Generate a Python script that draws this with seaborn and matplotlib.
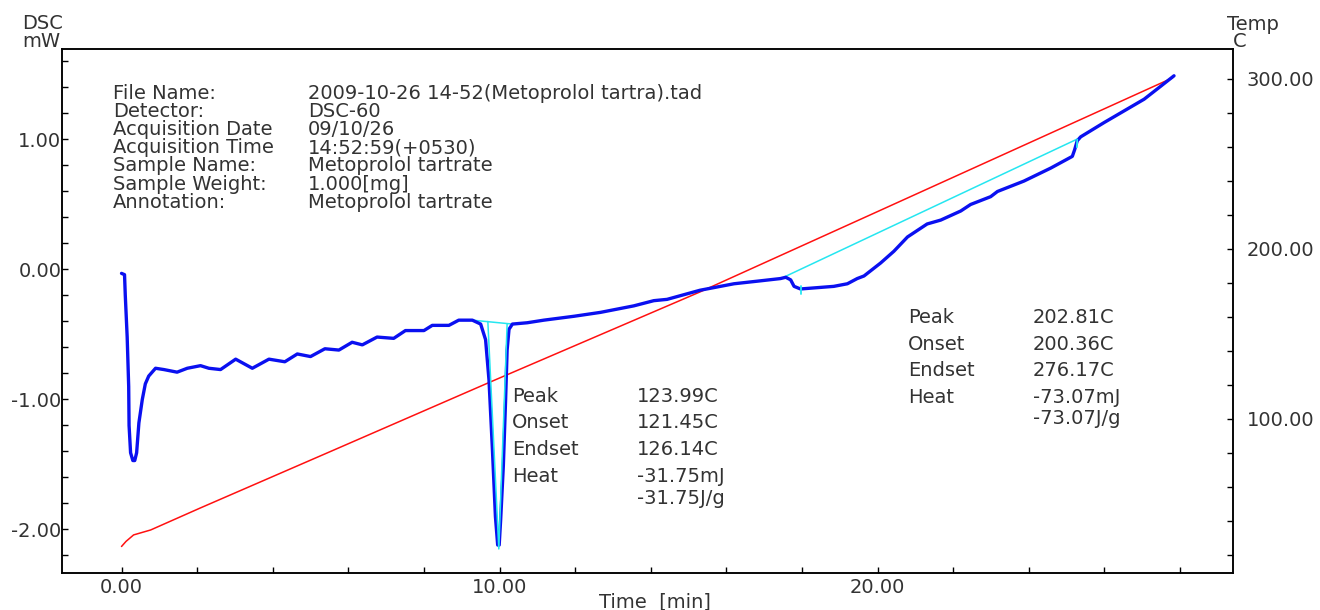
import numpy as np
import pandas as pd
import matplotlib
matplotlib.use("Agg")
import matplotlib.pyplot as plt
from matplotlib.ticker import MultipleLocator, FormatStrFormatter
import seaborn as sns

# ---------------- data ----------------
dsc_time = [0.00, 0.08, 0.10, 0.15, 0.19, 0.20, 0.24, 0.30, 0.35, 0.40, 0.46, 0.55, 0.63, 0.72,
            0.90, 1.12, 1.47, 1.74, 2.09, 2.31, 2.62, 3.02, 3.46, 3.90, 4.32, 4.65, 5.00, 5.38,
            5.75, 6.10, 6.37, 6.76, 7.20, 7.51, 8.00, 8.22, 8.66, 8.92, 9.28, 9.50, 9.63, 9.72,
            9.81, 9.89, 9.95, 9.99, 10.03, 10.10, 10.16, 10.20, 10.25, 10.34, 10.73, 11.17, 11.97,
            12.67, 13.55, 14.08, 14.43, 15.30, 16.20, 16.82, 17.43, 17.57, 17.70, 17.79, 17.96,
            18.40, 18.84, 19.20, 19.46, 19.64, 20.08, 20.43, 20.79, 21.31, 21.67, 22.20, 22.46,
            22.99, 23.17, 23.87, 24.58, 25.15, 25.21, 25.28, 25.37, 25.99, 26.52, 27.05, 27.49, 27.84]
dsc_mw = [-0.03, -0.04, -0.20, -0.52, -0.90, -1.20, -1.41, -1.47, -1.47, -1.41, -1.18, -1.00, -0.88, -0.82,
          -0.76, -0.77, -0.79, -0.76, -0.74, -0.76, -0.77, -0.69, -0.76, -0.69, -0.71, -0.65, -0.67, -0.61,
          -0.62, -0.56, -0.58, -0.52, -0.53, -0.47, -0.47, -0.43, -0.43, -0.39, -0.39, -0.42, -0.54, -0.85,
          -1.38, -1.90, -2.12, -2.12, -1.92, -1.51, -1.00, -0.62, -0.46, -0.42, -0.41, -0.39, -0.36,
          -0.33, -0.28, -0.24, -0.23, -0.16, -0.11, -0.09, -0.07, -0.06, -0.08, -0.13, -0.15,
          -0.14, -0.13, -0.11, -0.07, -0.05, 0.05, 0.14, 0.25, 0.35, 0.38, 0.45, 0.50,
          0.56, 0.60, 0.68, 0.78, 0.87, 0.92, 0.99, 1.02, 1.13, 1.22, 1.31, 1.41, 1.49]

temp_time = [0.00, 0.12, 0.32, 0.77, 2.08, 5.50, 9.76, 15.30, 20.00, 27.80]
temp_c = [25.0, 28.0, 31.8, 34.7, 47.6, 80.6, 121.8, 174.7, 222.0, 300.6]

# analysis baselines (cyan)
base1_time = [9.28, 10.34]
base1_mw = [-0.39, -0.42]
peak1_tri_time = [9.69, 9.98, 10.20]
peak1_tri_mw = [-0.40, -2.15, -0.42]
base2_time = [17.55, 25.33]
base2_mw = [-0.055, 1.01]
peak2_mark_time = [17.96, 17.96]
peak2_mark_mw = [-0.13, -0.19]
end2_mark_time = [25.28, 25.27]
end2_mark_mw = [1.00, 0.94]

header_labels = ["File Name:", "Detector:", "Acquisition Date", "Acquisition Time",
                 "Sample Name:", "Sample Weight:", "Annotation:"]
header_values = ["2009-10-26 14-52(Metoprolol tartra).tad", "DSC-60", "09/10/26",
                 "14:52:59(+0530)", "Metoprolol tartrate", "1.000[mg]", "Metoprolol tartrate"]

peak1_labels = ["Peak", "Onset", "Endset", "Heat", ""]
peak1_values = ["123.99C", "121.45C", "126.14C", "-31.75mJ", "-31.75J/g"]
peak2_labels = ["Peak", "Onset", "Endset", "Heat", ""]
peak2_values = ["202.81C", "200.36C", "276.17C", "-73.07mJ", "-73.07J/g"]

# ---------------- style ----------------
sns.set_style("ticks")
plt.rcParams['font.family'] = ['DejaVu Sans']
TXT = '#333333'
FS = 14

W, H = 1320, 610
fig = plt.figure(figsize=(W / 100, H / 100), dpi=100)
ax = fig.add_axes([62 / W, 1 - 573 / H, (1233 - 62) / W, (573 - 49) / H])
ax2 = ax.twinx()

def P(x, y):
    return x / W, 1 - y / H

dsc_df = pd.DataFrame({"time": dsc_time, "mw": dsc_mw})
temp_df = pd.DataFrame({"time": temp_time, "temp": temp_c})

# temperature (red) on right axis
sns.lineplot(data=temp_df, x="time", y="temp", ax=ax2, color="#ff1010", lw=1.1,
             sort=False, estimator=None)

# baselines (cyan) and DSC (blue) on left axis
cy = '#25e6f0'
sns.lineplot(x=base1_time, y=base1_mw, ax=ax, color=cy, lw=1.1, sort=False, estimator=None)
sns.lineplot(x=base2_time, y=base2_mw, ax=ax, color=cy, lw=1.1, sort=False, estimator=None)
sns.lineplot(data=dsc_df, x="time", y="mw", ax=ax, color="#0a10f0", lw=2.4,
             sort=False, estimator=None)
sns.lineplot(x=peak1_tri_time, y=peak1_tri_mw, ax=ax, color=cy, lw=1.1, sort=False, estimator=None)
sns.lineplot(x=peak2_mark_time, y=peak2_mark_mw, ax=ax, color=cy, lw=1.3, sort=False, estimator=None)
sns.lineplot(x=end2_mark_time, y=end2_mark_mw, ax=ax, color=cy, lw=1.3, sort=False, estimator=None)

ax.set_zorder(ax2.get_zorder() + 1)
ax.patch.set_visible(False)

# ---------------- axes ----------------
ax.set_xlim(-1.574, 29.40)
ax.set_ylim(-2.335, 1.696)
ax2.set_ylim(9.4, 317.6)

ax.xaxis.set_major_locator(MultipleLocator(10))
ax.xaxis.set_minor_locator(MultipleLocator(2))
ax.xaxis.set_major_formatter(FormatStrFormatter('%.2f'))
ax.yaxis.set_major_locator(MultipleLocator(1))
ax.yaxis.set_minor_locator(MultipleLocator(0.2))
ax.yaxis.set_major_formatter(FormatStrFormatter('%.2f'))
ax2.yaxis.set_major_locator(MultipleLocator(100))
ax2.yaxis.set_minor_locator(MultipleLocator(20))
ax2.yaxis.set_major_formatter(FormatStrFormatter('%.2f'))

for a in (ax, ax2):
    a.set_xlabel("")
    a.set_ylabel("")
    for s in a.spines.values():
        s.set_visible(True)
        s.set_linewidth(1.1)
        s.set_color('black')

ax.tick_params(axis='both', which='both', direction='in', length=4.5, width=1.0,
               color='black', labelcolor=TXT, labelsize=FS)
ax.tick_params(axis='y', which='both', pad=0.5, right=False)
ax.tick_params(axis='x', which='both', pad=3.5, top=False)
ax2.tick_params(axis='y', which='both', direction='in', length=4.5, width=1.0,
                color='black', labelcolor=TXT, labelsize=FS, pad=10)

# ---------------- texts ----------------
fig.text(*P(22, 29), "DSC", fontsize=FS, color=TXT, va='baseline', ha='left')
fig.text(*P(22, 47), "mW", fontsize=FS, color=TXT, va='baseline', ha='left')
fig.text(*P(1227, 30), "Temp", fontsize=FS, color=TXT, va='baseline', ha='left')
fig.text(*P(1233, 47), "C", fontsize=FS, color=TXT, va='baseline', ha='left')
fig.text(*P(655, 607), "Time  [min]", fontsize=FS, color=TXT, va='baseline', ha='center')

for i, (lab, val) in enumerate(zip(header_labels, header_values)):
    yb = 99 + 18.1 * i
    fig.text(*P(113, yb), lab, fontsize=FS, color=TXT, va='baseline', ha='left')
    fig.text(*P(308, yb), val, fontsize=FS, color=TXT, va='baseline', ha='left')

for lab, val, yb in zip(peak1_labels, peak1_values, [402, 428, 455, 482, 504]):
    if lab:
        fig.text(*P(512, yb), lab, fontsize=FS, color=TXT, va='baseline', ha='left')
    fig.text(*P(637, yb), val, fontsize=FS, color=TXT, va='baseline', ha='left')

for lab, val, yb in zip(peak2_labels, peak2_values, [323, 350, 376, 403, 424]):
    if lab:
        fig.text(*P(908, yb), lab, fontsize=FS, color=TXT, va='baseline', ha='left')
    fig.text(*P(1033, yb), val, fontsize=FS, color=TXT, va='baseline', ha='left')

fig.savefig("out.png", dpi=100, facecolor='white')
